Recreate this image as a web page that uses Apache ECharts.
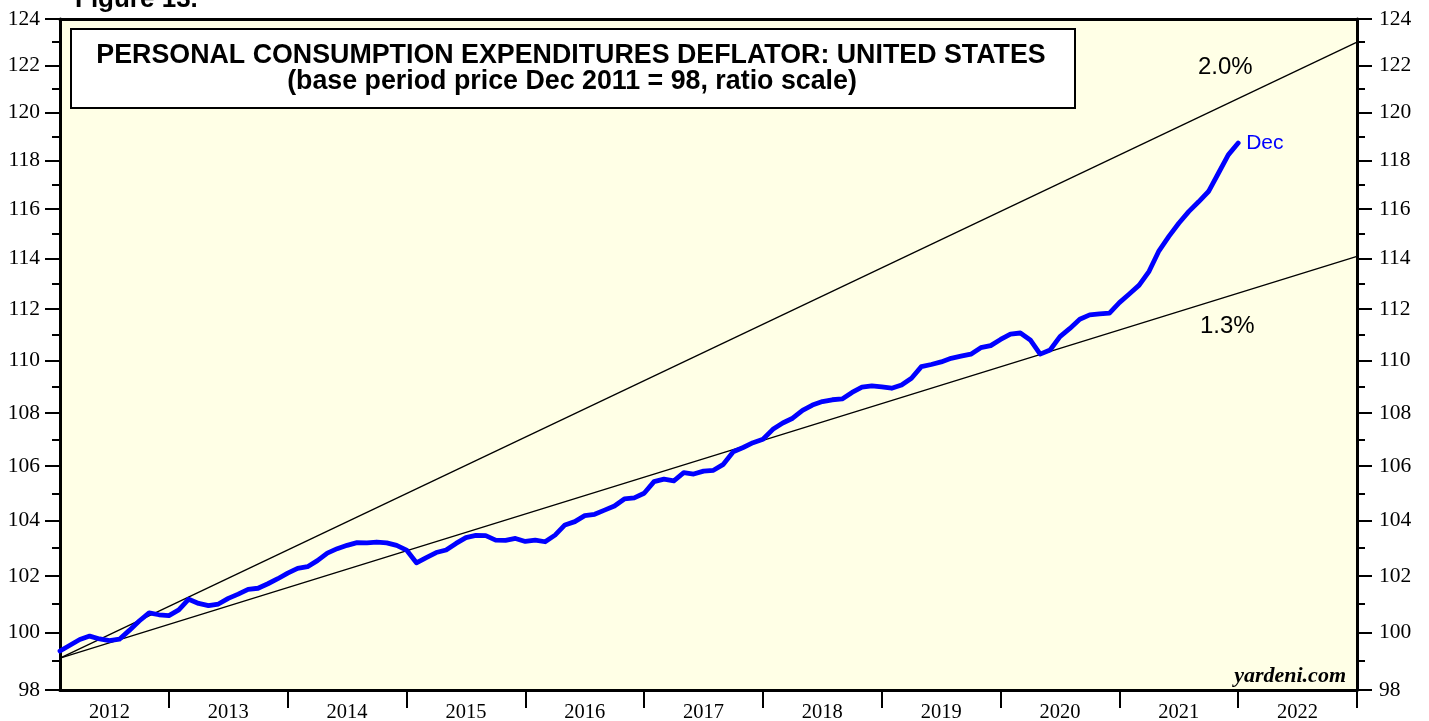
<!DOCTYPE html>
<html>
<head>
<meta charset="utf-8">
<title>PCE Deflator</title>
<script src="https://cdn.jsdelivr.net/npm/echarts@6.0.0/dist/echarts.min.js"></script>
<style>
  html, body { margin: 0; padding: 0; background: #ffffff; }
  #chart { width: 1429px; height: 721px; }
</style>
</head>
<body>
<div id="chart"></div>
<script>
// monthly PCE deflator, Jan 2012 .. Dec 2021
const pce2012 = [99.35, 99.55, 99.75, 99.87, 99.77, 99.71, 99.76, 100.07, 100.40, 100.69, 100.62, 100.59]
const pce2013 = [100.79, 101.17, 101.02, 100.94, 101.00, 101.20, 101.35, 101.52, 101.56, 101.72, 101.90, 102.10]
const pce2014 = [102.27, 102.33, 102.55, 102.82, 102.98, 103.10, 103.20, 103.19, 103.22, 103.19, 103.10, 102.93]
const pce2015 = [102.47, 102.66, 102.84, 102.93, 103.17, 103.38, 103.46, 103.45, 103.29, 103.28, 103.35, 103.24]
const pce2016 = [103.29, 103.23, 103.47, 103.84, 103.96, 104.18, 104.23, 104.38, 104.53, 104.79, 104.83, 105.00]
const pce2017 = [105.43, 105.52, 105.46, 105.76, 105.71, 105.82, 105.85, 106.07, 106.54, 106.70, 106.88, 107.01]
const pce2018 = [107.38, 107.62, 107.80, 108.10, 108.30, 108.43, 108.50, 108.53, 108.78, 108.98, 109.03, 108.99]
const pce2019 = [108.94, 109.06, 109.32, 109.77, 109.85, 109.95, 110.09, 110.17, 110.25, 110.50, 110.58, 110.82]
const pce2020 = [111.03, 111.07, 110.80, 110.25, 110.41, 110.93, 111.25, 111.61, 111.78, 111.82, 111.85, 112.26]
const pce2021 = [112.60, 112.95, 113.50, 114.32, 114.90, 115.43, 115.90, 116.30, 116.72, 117.47, 118.23, 118.72]

const pce = [].concat(pce2012, pce2013, pce2014, pce2015, pce2016, pce2017, pce2018, pce2019, pce2020, pce2021)

// trend lines (2.0% and 1.3% a year), values at the left and right edges
const trendX = [2012 + 1 / 12, 2023]
const trend20 = [99.1, 123.0]
const trend13 = [99.1, 114.1]

const yearTicks = [2013, 2014, 2015, 2016, 2017, 2018, 2019, 2020, 2021, 2022, 2023]
const yearLabels = [2012, 2013, 2014, 2015, 2016, 2017, 2018, 2019, 2020, 2021, 2022]
const yMajor = [98, 100, 102, 104, 106, 108, 110, 112, 114, 116, 118, 120, 122, 124]
const yMinor = [99, 101, 103, 105, 107, 109, 111, 113, 115, 117, 119, 121, 123]

const SANS = "Liberation Sans, Arial, sans-serif"
const SERIF = "Liberation Serif, Times New Roman, serif"

const chart = echarts.init(document.getElementById("chart"), null, { renderer: "canvas" })

// end of month positions: Jan 2012 sits on the left edge
const pceData = pce.map((v, i) => [2012 + (i + 1) / 12, v])

function yAxis(position, ticks, len, labels) {
  return {
    type: "log",
    logBase: 10,
    min: 98,
    max: 124,
    position: position,
    axisLine: { show: labels, lineStyle: { color: "#000", width: 3 } },
    axisTick: {
      show: true,
      customValues: ticks,
      length: len,
      lineStyle: { color: "#000", width: 2 },
    },
    axisLabel: labels
      ? {
          show: true,
          customValues: yMajor,
          margin: position === "left" ? 20 : 22,
          fontFamily: SERIF,
          fontSize: 21.5,
          color: "#000",
          formatter: (v) => String(Math.round(v)),
        }
      : { show: false },
    splitLine: { show: false },
    minorTick: { show: false },
  }
}

chart.setOption({
  animation: false,
  backgroundColor: "#ffffff",
  grid: {
    left: 60,
    right: 72,
    top: 19,
    bottom: 31,
    outerBoundsMode: "none",
    containLabel: false,
    show: true,
    backgroundColor: "#ffffe6",
    borderWidth: 0,
  },
  xAxis: [
    {
      type: "value",
      min: 2012 + 1 / 12,
      max: 2023,
      position: "bottom",
      axisLine: { lineStyle: { color: "#000", width: 3 } },
      axisTick: {
        customValues: yearTicks,
        length: 18,
        lineStyle: { color: "#000", width: 2 },
      },
      axisLabel: {
        customValues: yearLabels.map((y) => y + 0.5),
        formatter: (v) => String(Math.floor(v)),
        margin: 12,
        fontFamily: SERIF,
        fontSize: 20.5,
        color: "#000",
      },
      splitLine: { show: false },
    },
    {
      type: "value",
      min: 2012 + 1 / 12,
      max: 2023,
      position: "top",
      axisLine: { lineStyle: { color: "#000", width: 3 } },
      axisTick: { show: false },
      axisLabel: { show: false },
      splitLine: { show: false },
    },
  ],
  yAxis: [
    yAxis("left", yMajor, 15, true),
    yAxis("left", yMinor, 8, false),
    yAxis("right", yMajor, 15, true),
    yAxis("right", yMinor, 8, false),
  ],
  series: [
    {
      name: "2.0%",
      type: "line",
      data: trendX.map((x, i) => [x, trend20[i]]),
      showSymbol: false,
      lineStyle: { color: "#000", width: 1.3 },
      z: 2,
    },
    {
      name: "1.3%",
      type: "line",
      data: trendX.map((x, i) => [x, trend13[i]]),
      showSymbol: false,
      lineStyle: { color: "#000", width: 1.3 },
      z: 2,
    },
    {
      name: "PCE",
      type: "line",
      data: pceData,
      showSymbol: false,
      lineStyle: { color: "#0000ff", width: 4.8, join: "round", cap: "round" },
      endLabel: {
        show: true,
        formatter: "Dec",
        color: "#0000ff",
        fontFamily: SANS,
        fontSize: 21,
        distance: 8,
      },
      z: 3,
    },
  ],
  graphic: [
    {
      type: "text",
      style: { text: "Figure 13.", x: 75, y: 13, verticalAlign: "bottom", font: "bold 26px " + SANS, fill: "#000" },
    },
    {
      type: "rect",
      shape: { x: 71, y: 29, width: 1004, height: 79 },
      style: { fill: "#ffffff", stroke: "#000", lineWidth: 2 },
      z: 10,
    },
    {
      type: "text",
      z: 11,
      style: {
        text: "PERSONAL CONSUMPTION EXPENDITURES DEFLATOR: UNITED STATES",
        x: 571, y: 56, align: "center", verticalAlign: "middle",
        font: "bold 26.8px " + SANS, fill: "#000",
      },
    },
    {
      type: "text",
      z: 11,
      style: {
        text: "(base period price Dec 2011 = 98, ratio scale)",
        x: 572, y: 82, align: "center", verticalAlign: "middle",
        font: "bold 26.8px " + SANS, fill: "#000",
      },
    },
    {
      type: "text",
      z: 11,
      style: { text: "2.0%", x: 1198, y: 67, verticalAlign: "middle", font: "24px " + SANS, fill: "#000" },
    },
    {
      type: "text",
      z: 11,
      style: { text: "1.3%", x: 1200, y: 326, verticalAlign: "middle", font: "24px " + SANS, fill: "#000" },
    },
    {
      type: "text",
      z: 11,
      style: { text: "yardeni.com", x: 1346, y: 676, align: "right", verticalAlign: "middle", font: "italic bold 22px " + SERIF, fill: "#000" },
    },
  ],
})
</script>
</body>
</html>
